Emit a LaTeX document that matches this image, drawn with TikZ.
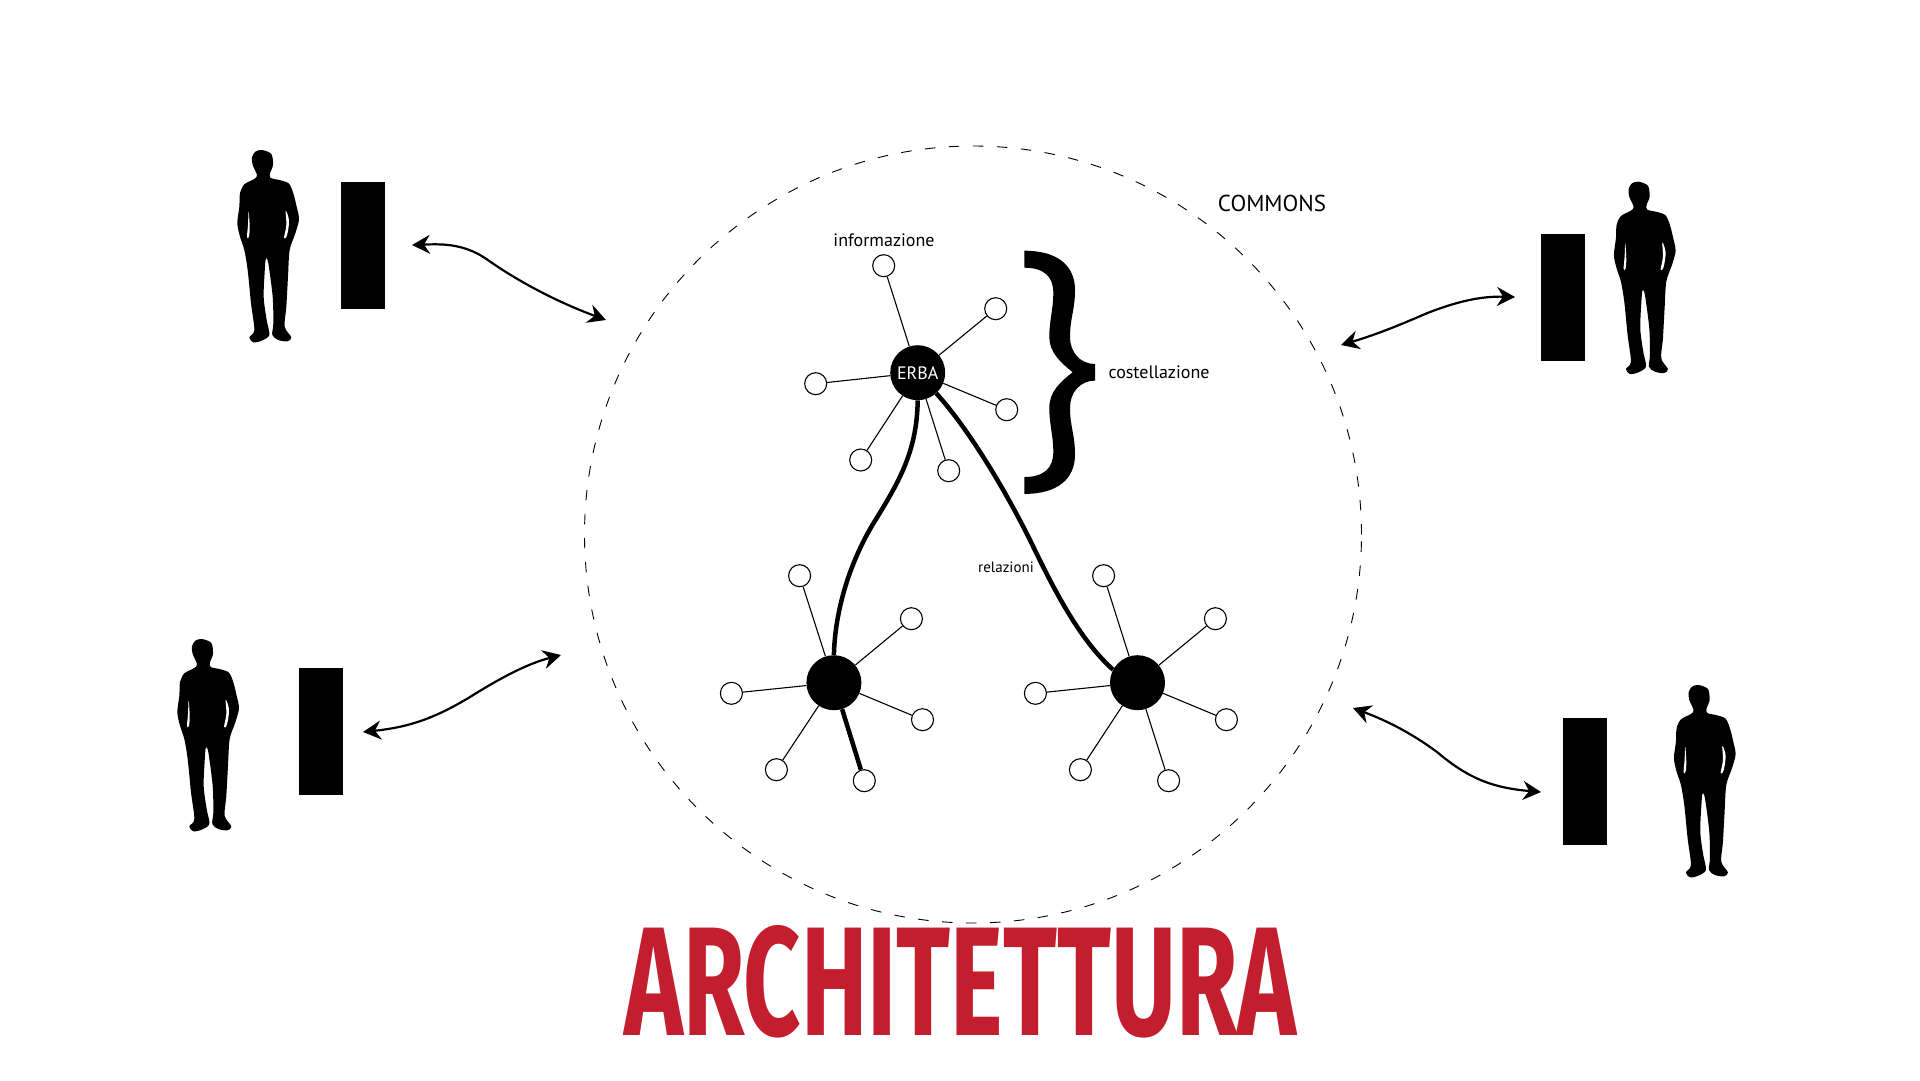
\documentclass[tikz,border=0pt]{standalone}
\usepackage{fontspec}
\setmainfont{PT Sans}
\newfontfamily\titlefont{Fira Sans}
\usetikzlibrary{arrows.meta}
\definecolor{archred}{HTML}{C31E2E}
\tikzset{
  hub/.style={circle,fill=black,inner sep=0pt,minimum size=55pt},
  leaf/.style={circle,draw=black,fill=white,line width=1.1pt,inner sep=0pt,minimum size=22pt},
  spoke/.style={black,line width=1.1pt},
  link/.style={black,line width=4.5pt},
  slab/.style={fill=black,inner sep=0pt,minimum width=44pt,minimum height=127pt},
  swap/.style={black,line width=2.2pt,arrows={Stealth[length=18pt,width=19pt,inset=6pt]-Stealth[length=18pt,width=19pt,inset=6pt]}},
  person/.pic={
    \fill [black] plot [smooth cycle,tension=0.5] coordinates {(186,60) (214,72) (219,105) (210,130) (212,144) (242,151) (267,161) (280,190) (290,230) (297,268) (286,310) (269,360) (264,440) (259,530) (254,590) (274,622) (262,634) (235,630) (217,615) (220,580) (218,500) (205,400) (198,385) (195,410) (191,500) (200,570) (208,615) (185,632) (160,637) (148,622) (163,600) (153,520) (143,420) (133,360) (120,320) (112,280) (118,230) (120,190) (133,163) (163,147) (171,135) (158,105) (156,82) (166,65)};
    \fill [white] plot [smooth cycle,tension=0.6] coordinates {(146,245) (149,290) (147,320) (141,322) (144,285)};
    \fill [white] plot [smooth cycle,tension=0.6] coordinates {(257,242) (267,272) (261,316) (252,324) (259,285)};
  }
}
\begin{document}
\begin{tikzpicture}[x=1pt,y=-1pt]
\useasboundingbox (0,0) rectangle (1920,1080);
\node [circle,draw=black,line width=0.9pt,dash pattern=on 10.5pt off 13.5pt,inner sep=0pt,minimum size=777pt] (commons) at (973,534.5) {};
\pic [scale=1/3] at (200,130) {person};
\pic [scale=1/3] at (1576.6,161.7) {person};
\pic [scale=1/3] at (140,619) {person};
\pic [scale=1/3] at (1636.6,665) {person};
\node [slab] (slabTL) at (363,245.5) {};
\node [slab] (slabTR) at (1563,297.5) {};
\node [slab] (slabBL) at (321,731.5) {};
\node [slab] (slabBR) at (1585,781.5) {};
\node [hub,text=white,font=\fontsize{18}{18}\selectfont] (erba) at (917.7,372.7) {ERBA};
\node [hub] (hubL) at (833.9,682.7) {};
\node [hub] (hubR) at (1137.5,682.7) {};
\node [leaf] (e1) at (883.7,265.7) {};
\node [leaf] (e2) at (995.7,308.7) {};
\node [leaf] (e3) at (815.7,383.7) {};
\node [leaf] (e4) at (1006.7,409.7) {};
\node [leaf] (e5) at (860.7,460) {};
\node [leaf] (e6) at (948.7,470.7) {};
\node [leaf] (l1) at (799.6,575.7) {};
\node [leaf] (l2) at (911.4,618.7) {};
\node [leaf] (l3) at (731.4,693.3) {};
\node [leaf] (l4) at (922.5,719.7) {};
\node [leaf] (l5) at (776.4,769.7) {};
\node [leaf] (l6) at (864.3,780.7) {};
\node [leaf] (r1) at (1103.6,575.7) {};
\node [leaf] (r2) at (1215.4,618.7) {};
\node [leaf] (r3) at (1035.4,693.3) {};
\node [leaf] (r4) at (1226.4,719.7) {};
\node [leaf] (r5) at (1080.4,769.7) {};
\node [leaf] (r6) at (1168.6,780.7) {};
\draw [spoke] (erba) -- (e1);
\draw [spoke] (erba) -- (e2);
\draw [spoke] (erba) -- (e3);
\draw [spoke] (erba) -- (e4);
\draw [spoke] (erba) -- (e5);
\draw [spoke] (erba) -- (e6);
\draw [spoke] (hubL) -- (l1);
\draw [spoke] (hubL) -- (l2);
\draw [spoke] (hubL) -- (l3);
\draw [spoke] (hubL) -- (l4);
\draw [spoke] (hubL) -- (l5);
\draw [link] (hubL) -- (l6);
\draw [spoke] (hubR) -- (r1);
\draw [spoke] (hubR) -- (r2);
\draw [spoke] (hubR) -- (r3);
\draw [spoke] (hubR) -- (r4);
\draw [spoke] (hubR) -- (r5);
\draw [spoke] (hubR) -- (r6);
\draw [link] (erba.-90) .. controls (917,450) and (900,480) .. (876.7,518) .. controls (850,560) and (835,610) .. (hubL.90);
\draw [link] (erba.-48) .. controls (965,425) and (1000,480) .. (1030,540) .. controls (1055,592) and (1080,640) .. (hubR.152);
\fill [black] (1024.3,250.7) .. controls (1058,250.7) and (1075,266) .. (1075,290) .. controls (1075,310) and (1070,318) .. (1070,337) .. controls (1070,352) and (1080,364) .. (1095,364) -- (1095,380.6) .. controls (1080,380.6) and (1070,392.6) .. (1070,407.6) .. controls (1070,426.6) and (1075,434.6) .. (1075,454.6) .. controls (1075,478.6) and (1058,493.9) .. (1024.3,493.9) -- (1024.3,477) .. controls (1044,477) and (1053.3,468) .. (1053.3,452) .. controls (1053.3,435) and (1049.3,425) .. (1049.3,407.6) .. controls (1049.3,392) and (1060,382) .. (1072.7,372.3) .. controls (1060,362) and (1049.3,352) .. (1049.3,337) .. controls (1049.3,320) and (1053.3,310) .. (1053.3,292.6) .. controls (1053.3,276.6) and (1044,267.7) .. (1024.3,267.7) -- cycle;
\coordinate (tlA) at (412,245);
\coordinate (tlB) at (606,320);
\coordinate (trA) at (1515,297);
\coordinate (trB) at (1341,345);
\coordinate (blA) at (561,655);
\coordinate (blB) at (363,732);
\coordinate (brA) at (1353,708);
\coordinate (brB) at (1541,792);
\draw [swap] (tlA) .. controls (440,244) and (462,243) .. (485,258) .. controls (520,283) and (560,303) .. (tlB);
\draw [swap] (trA) .. controls (1480,296) and (1455,302) .. (1425,314) .. controls (1400,325) and (1375,335) .. (trB);
\draw [swap] (blA) .. controls (530,663) and (505,675) .. (470,697) .. controls (435,718) and (410,727) .. (blB);
\draw [swap] (brA) .. controls (1385,720) and (1410,732) .. (1437,752) .. controls (1470,780) and (1495,788) .. (brB);
\node [font=\fontsize{23}{23}\selectfont] (commonsText) at (1272,203) {COMMONS};
\node [font=\fontsize{18}{18}\selectfont] (infoText) at (884,240) {informazione};
\node [font=\fontsize{18}{18}\selectfont] (costText) at (1159,372) {costellazione};
\node [font=\fontsize{15}{15}\selectfont] (relText) at (1006,567) {relazioni};
\node [font=\titlefont\bfseries\fontsize{155}{155}\selectfont,text=archred,inner sep=0pt,xscale=0.644,transform shape] (archText) at (960.5,982) {ARCHITETTURA};
\end{tikzpicture}
\end{document}
